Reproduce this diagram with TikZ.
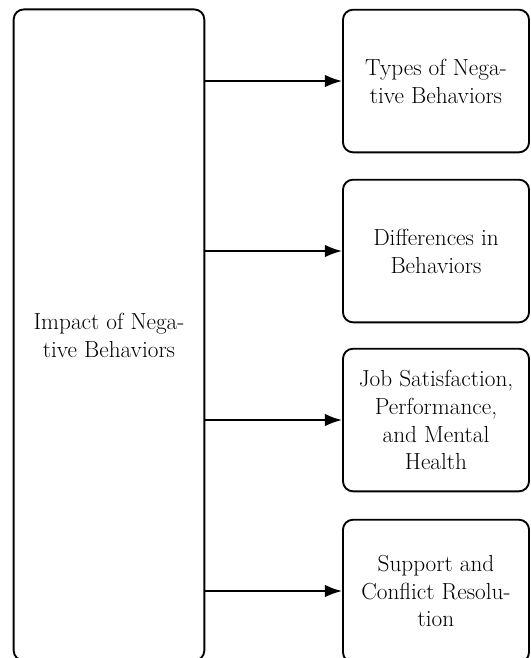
\documentclass[tikz,border=0pt]{standalone}
\usepackage{tikz}
\usetikzlibrary{positioning, arrows.meta}

\begin{document}
\begin{tikzpicture}[x=0.645pt, y=-0.645pt,
	box/.style={draw, line width=1.2pt, rounded corners=6.5pt, align=center, inner sep=0pt,
		minimum width=120pt, minimum height=92pt, font=\fontsize{15}{18}\selectfont},
	link/.style={line width=1.2pt, -{Latex[length=11pt, width=8pt]}}]
	\clip (0, 0) rectangle (530, 658);
	\node[box, minimum width=123pt, minimum height=420pt] (impact) at (109, 335) {Impact of Nega-\\tive Behaviors};
	\node[box] (types) at (436, 81) {Types of Nega-\\tive Behaviors};
	\node[box] (diff) at (436, 251) {Differences in\\Behaviors};
	\node[box] (job) at (436, 420) {Job Satisfaction,\\Performance,\\and Mental\\Health};
	\node[box] (support) at (436, 591) {Support and\\Conflict Resolu-\\tion};
	\draw  (impact.east |- types) edge[link] (types)
	       (impact.east |- diff) edge[link] (diff)
	       (impact.east |- job) edge[link] (job)
	       (impact.east |- support) edge[link] (support);
\end{tikzpicture}
\end{document}
